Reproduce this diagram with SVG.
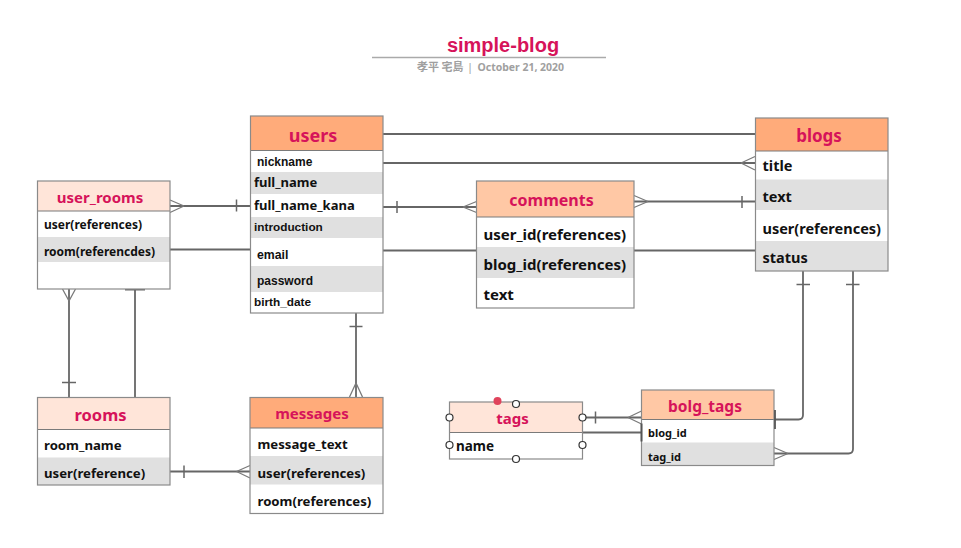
<svg xmlns="http://www.w3.org/2000/svg" width="961" height="548" viewBox="0 0 961 548">
<style>
.bg{fill:#ffffff}
.row{fill:#e0e0e0}
.frame{fill:none;stroke:#8a8a8a;stroke-width:1.2}
.sep{stroke:#7a7a7a;stroke-width:1.2}
.hA{fill:#ffab7a}
.hB{fill:#ffc8a5}
.hC{fill:#ffe5d9}
.ht{font-family:"Noto Sans","Liberation Sans",sans-serif;font-weight:bold;fill:#d6135a;text-anchor:middle}
.ft{font-family:"Noto Sans","Liberation Sans",sans-serif;font-weight:bold;fill:#111}
.fa{font-family:"Liberation Sans",Arial,sans-serif;font-weight:bold;fill:#111}
.ln{fill:none;stroke:#666;stroke-width:1.8}
.cf{fill:none;stroke:#7a7a7a;stroke-width:1.3}
.bar{fill:none;stroke:#666;stroke-width:1.5}
.hd{fill:#fff;stroke:#333;stroke-width:1.2}
</style>

<g id="title">
<text x="503" y="52" text-anchor="middle" font-family="'Liberation Sans',Arial,sans-serif" font-weight="bold" font-size="20" fill="#d6135a">simple-blog</text>
<line x1="372" y1="57.5" x2="606" y2="57.5" stroke="#aaaaaa" stroke-width="1.5"/>
<text x="417" y="71" font-family="'Noto Sans CJK JP',sans-serif" font-weight="bold" font-size="11" fill="#a0a0a0">孝平 宅島</text>
<text x="470" y="71" text-anchor="middle" font-family="'Noto Sans',sans-serif" font-size="11" fill="#a0a0a0">|</text>
<text x="477.5" y="71" font-family="'Noto Sans',sans-serif" font-weight="bold" font-size="10.5" fill="#a0a0a0" textLength="86.5" lengthAdjust="spacingAndGlyphs">October 21, 2020</text>
</g>

<g id="connectors">
<path class="ln" d="M383,134 H755"/>
<path class="ln" d="M383,163 H755"/>
<path class="cf" d="M741,163 L755,156.5 M741,163 L755,170"/>
<path class="ln" d="M170,206 H250"/>
<path class="cf" d="M184,206 L170,200 M184,206 L170,212.5"/>
<path class="bar" d="M236.5,199.5 V211.5"/>
<path class="ln" d="M170,249.5 H250"/>
<path class="ln" d="M383,207 H476.5"/>
<path class="bar" d="M397,201 V213"/>
<path class="cf" d="M463,207 L476.5,201.5 M463,207 L476.5,212.5"/>
<path class="ln" d="M383,250.5 H755"/>
<path class="ln" d="M634,201.5 H755"/>
<path class="cf" d="M648,201.5 L634,195.5 M648,201.5 L634,207.5"/>
<path class="bar" d="M742,196 V208"/>
<path class="ln" d="M69,289 V397"/>
<path class="cf" d="M69,301 L62.5,289 M69,301 L75.5,289"/>
<path class="bar" d="M62,382.5 H76"/>
<path class="ln" d="M135,289 V397"/>
<path class="bar" d="M125,289.5 H145" style="stroke-width:2"/>
<path class="ln" d="M356,313 V397"/>
<path class="bar" d="M349.5,326.5 H362.5"/>
<path class="cf" d="M356,383 L349.5,397 M356,383 L362.5,397"/>
<path class="ln" d="M170,471.5 H250"/>
<path class="bar" d="M184,465.5 V478"/>
<path class="cf" d="M236.5,471.5 L250,465.5 M236.5,471.5 L250,478"/>
<path class="ln" d="M583,417.5 H641.5"/>
<path class="bar" d="M595.5,411.5 V423.5"/>
<path class="cf" d="M628,417.5 L641.5,411 M628,417.5 L641.5,424"/>
<path class="ln" d="M583,432.5 H641.5"/>
<path class="ln" d="M803,271 V415 Q803,419.5 798.5,419.5 H774"/>
<path class="bar" d="M796.5,284.5 H810"/>
<path class="ln" d="M853,271 V449 Q853,453.5 848.5,453.5 H774"/>
<path class="bar" d="M846,284.5 H859.5"/>
<path class="cf" d="M788,453.5 L774,447.5 M788,453.5 L774,459.5"/>
</g>

<g id="users">
<rect class="bg" x="250.5" y="116" width="132.5" height="197"/>
<rect class="hA" x="250.5" y="116" width="132.5" height="34.5"/>
<rect class="row" x="250.5" y="172" width="132.5" height="22"/>
<rect class="row" x="250.5" y="217" width="132.5" height="21"/>
<rect class="row" x="250.5" y="266" width="132.5" height="26"/>
<line class="sep" x1="250.5" y1="150.5" x2="383" y2="150.5"/>
<rect class="frame" x="250.5" y="116" width="132.5" height="197"/>
<text class="ht" x="313" y="142" font-size="18">users</text>
<text class="fa" x="257" y="165.5" font-size="12">nickname</text>
<text class="ft" x="254" y="187" font-size="13">full_name</text>
<text class="ft" x="254" y="210" font-size="13">full_name_kana</text>
<text class="fa" x="254" y="230.5" font-size="11.8">introduction</text>
<text class="fa" x="257" y="258.5" font-size="12.3">email</text>
<text class="fa" x="257" y="284.5" font-size="12">password</text>
<text class="fa" x="254" y="305.5" font-size="11.8">birth_date</text>
</g>

<g id="user_rooms">
<rect class="bg" x="37.5" y="181" width="132.5" height="108"/>
<rect class="hC" x="37.5" y="181" width="132.5" height="30"/>
<rect class="row" x="37.5" y="237" width="132.5" height="25"/>
<line class="sep" x1="37.5" y1="211" x2="170" y2="211"/>
<rect class="frame" x="37.5" y="181" width="132.5" height="108"/>
<text class="ht" x="100" y="202.5" font-size="15">user_rooms</text>
<text class="ft" x="44" y="229" font-size="12">user(references)</text>
<text class="ft" x="44" y="255.5" font-size="12">room(referencdes)</text>
</g>

<g id="comments">
<rect class="bg" x="476.5" y="181" width="157.5" height="127"/>
<rect class="hB" x="476.5" y="181" width="157.5" height="36"/>
<rect class="row" x="476.5" y="247" width="157.5" height="31"/>
<line class="sep" x1="476.5" y1="217" x2="634" y2="217"/>
<rect class="frame" x="476.5" y="181" width="157.5" height="127"/>
<text class="ht" x="551.5" y="206" font-size="16">comments</text>
<text class="ft" x="483.5" y="240" font-size="15">user_id(references)</text>
<text class="ft" x="483.5" y="270" font-size="15">blog_id(references)</text>
<text class="ft" x="483.5" y="300" font-size="15">text</text>
</g>

<g id="blogs">
<rect class="bg" x="755.5" y="118" width="132.5" height="153"/>
<rect class="hA" x="755.5" y="118" width="132.5" height="33"/>
<rect class="row" x="755.5" y="179.5" width="132.5" height="30.5"/>
<rect class="row" x="755.5" y="241" width="132.5" height="30"/>
<line class="sep" x1="755.5" y1="151" x2="888" y2="151"/>
<rect class="frame" x="755.5" y="118" width="132.5" height="153"/>
<text class="ht" x="819" y="142" font-size="17">blogs</text>
<text class="ft" x="762.5" y="171" font-size="14.5">title</text>
<text class="ft" x="762.5" y="202" font-size="14.5">text</text>
<text class="ft" x="762.5" y="233.5" font-size="14.5">user(references)</text>
<text class="ft" x="762.5" y="263" font-size="14.5">status</text>
</g>

<g id="rooms">
<rect class="bg" x="37.5" y="397.5" width="132.5" height="87.5"/>
<rect class="hC" x="37.5" y="397.5" width="132.5" height="32"/>
<rect class="row" x="37.5" y="457.5" width="132.5" height="27.5"/>
<line class="sep" x1="37.5" y1="429.5" x2="170" y2="429.5"/>
<rect class="frame" x="37.5" y="397.5" width="132.5" height="87.5"/>
<text class="ht" x="100.5" y="420.5" font-size="16.5">rooms</text>
<text class="ft" x="44" y="449.5" font-size="13.2">room_name</text>
<text class="ft" x="44" y="478" font-size="13.2">user(reference)</text>
</g>

<g id="messages">
<rect class="bg" x="250" y="397.5" width="133" height="116"/>
<rect class="hA" x="250" y="397.5" width="133" height="30.5"/>
<rect class="row" x="250" y="456" width="133" height="28.5"/>
<line class="sep" x1="250" y1="428" x2="383" y2="428"/>
<rect class="frame" x="250" y="397.5" width="133" height="116"/>
<text class="ht" x="312" y="419" font-size="15">messages</text>
<text class="ft" x="257.5" y="448.5" font-size="13.2">message_text</text>
<text class="ft" x="257.5" y="478" font-size="13.2">user(references)</text>
<text class="ft" x="257.5" y="505.5" font-size="13.2">room(references)</text>
</g>

<g id="tags">
<rect class="bg" x="449.5" y="402" width="133" height="57"/>
<rect class="hC" x="449.5" y="402" width="133" height="30.5"/>
<line class="sep" x1="449.5" y1="432.5" x2="582.5" y2="432.5"/>
<rect class="frame" x="449.5" y="402" width="133" height="57"/>
<text class="ht" x="512.5" y="424" font-size="15">tags</text>
<text class="ft" x="456" y="451" font-size="13.5">name</text>
<circle cx="497.5" cy="401" r="4" fill="#e0445c"/>
<circle class="hd" cx="516" cy="404" r="3.5"/>
<circle class="hd" cx="449.5" cy="417.5" r="3.5"/>
<circle class="hd" cx="582.5" cy="417.5" r="3.5"/>
<circle class="hd" cx="449.5" cy="445" r="3.5"/>
<circle class="hd" cx="582.5" cy="445" r="3.5"/>
<circle class="hd" cx="516" cy="459" r="3.5"/>
</g>

<g id="bolg_tags">
<rect class="bg" x="641.5" y="390" width="132.5" height="75.5"/>
<rect class="hB" x="641.5" y="390" width="132.5" height="29.5"/>
<rect class="row" x="641.5" y="442.5" width="132.5" height="23"/>
<line class="sep" x1="641.5" y1="419.5" x2="774" y2="419.5"/>
<rect class="frame" x="641.5" y="390" width="132.5" height="75.5"/>
<text class="ht" x="705" y="412" font-size="15.5">bolg_tags</text>
<text class="ft" x="648" y="436.5" font-size="11">blog_id</text>
<text class="ft" x="648" y="460.5" font-size="11">tag_id</text>
<path d="M641.5,423.5 V441.5" stroke="#555" stroke-width="2"/>
<path d="M775,410 V429" stroke="#555" stroke-width="1.8"/>
</g>
</svg>
